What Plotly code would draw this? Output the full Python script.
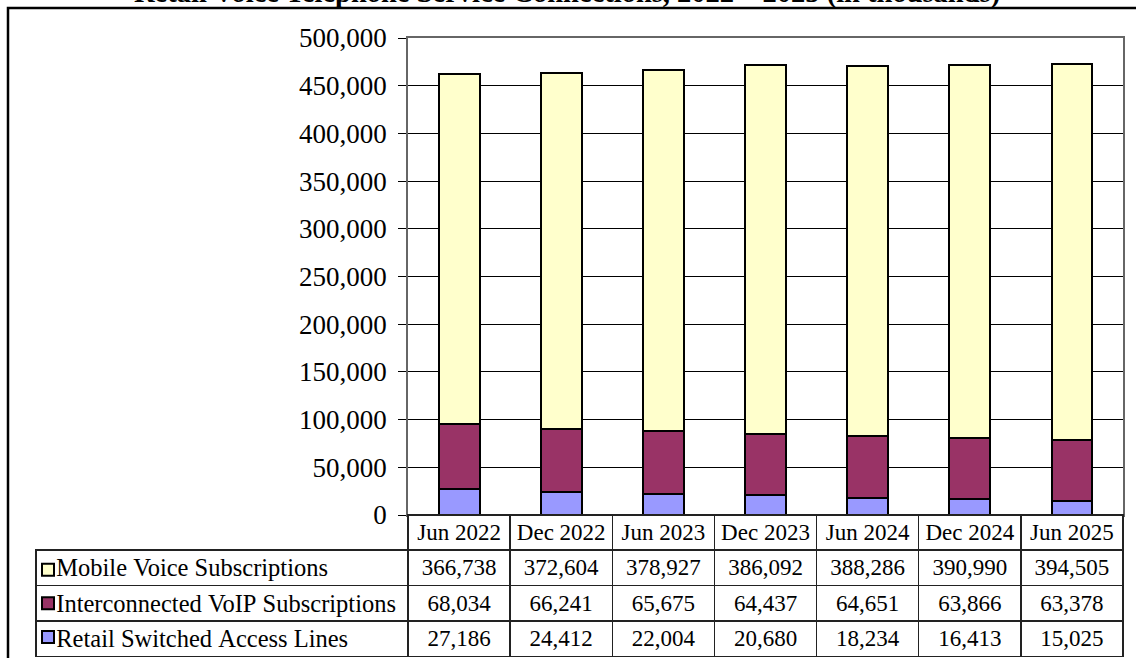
import plotly.graph_objects as go

# ---- data ----
periods = ["Jun 2022", "Dec 2022", "Jun 2023", "Dec 2023", "Jun 2024", "Dec 2024", "Jun 2025"]
retail_switched = [27186, 24412, 22004, 20680, 18234, 16413, 15025]
voip = [68034, 66241, 65675, 64437, 64651, 63866, 63378]
mobile = [366738, 372604, 378927, 386092, 388286, 390990, 394505]
series_names = ["Retail Switched Access Lines", "Interconnected VoIP Subscriptions", "Mobile Voice Subscriptions"]
series_values = [retail_switched, voip, mobile]
series_colors = ["#9999FF", "#993366", "#FFFFCC"]
title_text = "Retail Voice Telephone Service Connections, 2022 \u2013 2025 (in thousands)"
y_ticks = list(range(0, 500001, 50000))

W, H = 1136, 658
FONT = "Liberation Serif, Times New Roman, serif"

# layout geometry (pixels)
plot_l, plot_r, plot_t, plot_b = 408, 1123, 38, 515
tab_l = 36
hdr_h, row_h = 35, 35.5

fig = go.Figure()
for name, vals, col in zip(series_names, series_values, series_colors):
    fig.add_trace(go.Bar(
        x=periods, y=vals, name="", marker=dict(color=col, line=dict(color="black", width=2)),
        xaxis="x", yaxis="y", showlegend=True, hovertext=name,
    ))

NB = "\u00a0"
# data table under the chart
table_rows = list(reversed(list(zip(series_names, series_values))))
first_col = [NB * 2 + n.replace(" ", NB) for n, _ in table_rows]
value_cols = [[f"{v[i]:,}" for _, v in table_rows] for i in range(len(periods))]
header_vals = [""] + [p.replace(" ", NB) for p in periods]
fig.add_trace(go.Table(
    domain=dict(x=[tab_l / W, plot_r / W], y=[0, (H - plot_b) / H]),
    columnwidth=[plot_l - tab_l] + [(plot_r - plot_l) / len(periods)] * len(periods),
    header=dict(
        values=header_vals,
        height=hdr_h,
        align="center",
        font=dict(family=FONT, size=23, color="black"),
        fill=dict(color=["rgba(0,0,0,0)"] + ["white"] * len(periods)),
        line=dict(color=["rgba(0,0,0,0)"] + ["#222222"] * len(periods), width=1.5),
    ),
    cells=dict(
        values=[first_col] + value_cols,
        height=row_h,
        align=["left"] + ["center"] * len(periods),
        font=dict(family=FONT, size=[24.5] + [23] * len(periods), color="black"),
        fill=dict(color="white"),
        line=dict(color="#222222", width=1.5),
    ),
))

fig.update_layout(
    width=W, height=H,
    margin=dict(l=0, r=0, t=0, b=0, autoexpand=False),
    paper_bgcolor="white", plot_bgcolor="white",
    barmode="stack", bargap=0.6,
    font=dict(family=FONT, color="black"),
    xaxis=dict(domain=[plot_l / W, plot_r / W], showticklabels=False, ticks="",
               showline=True, linecolor="#666666", linewidth=1.5, mirror=True,
               showgrid=False, range=[-0.5, len(periods) - 0.5], fixedrange=True),
    yaxis=dict(domain=[(H - plot_b) / H, (H - plot_t) / H], range=[0, 500000],
               tickvals=y_ticks, tickformat=",", ticks="outside", ticklen=8,
               tickcolor="black", tickwidth=1, ticklabelstandoff=6,
               tickfont=dict(family=FONT, size=27, color="black"),
               showgrid=True, gridcolor="black", gridwidth=1,
               showline=True, linecolor="#666666", linewidth=1.5, mirror=True,
               zeroline=False, fixedrange=True),
    showlegend=True,
    legend=dict(x=28 / W, xanchor="left", y=(H - 548) / H, yanchor="top",
                traceorder="reversed", font=dict(family=FONT, size=23.5),
                bgcolor="rgba(0,0,0,0)", borderwidth=0, itemclick=False, itemdoubleclick=False),
    annotations=[dict(text="<b>" + title_text + "</b>", xref="paper", yref="paper",
                      x=567 / W, y=1 - 11 / H, xanchor="center", yanchor="bottom",
                      showarrow=False, font=dict(family=FONT, size=28.5, color="black"))],
    shapes=[dict(type="rect", xref="paper", yref="paper", x0=8 / W, y0=-0.2, x1=1.2, y1=1 - 8 / H,
                 line=dict(color="black", width=2.5), fillcolor="rgba(0,0,0,0)", layer="above")],
)

fig.write_html("out.html", config={"displayModeBar": False},
               post_script="document.body.style.margin='0';document.body.style.overflow='hidden';")
